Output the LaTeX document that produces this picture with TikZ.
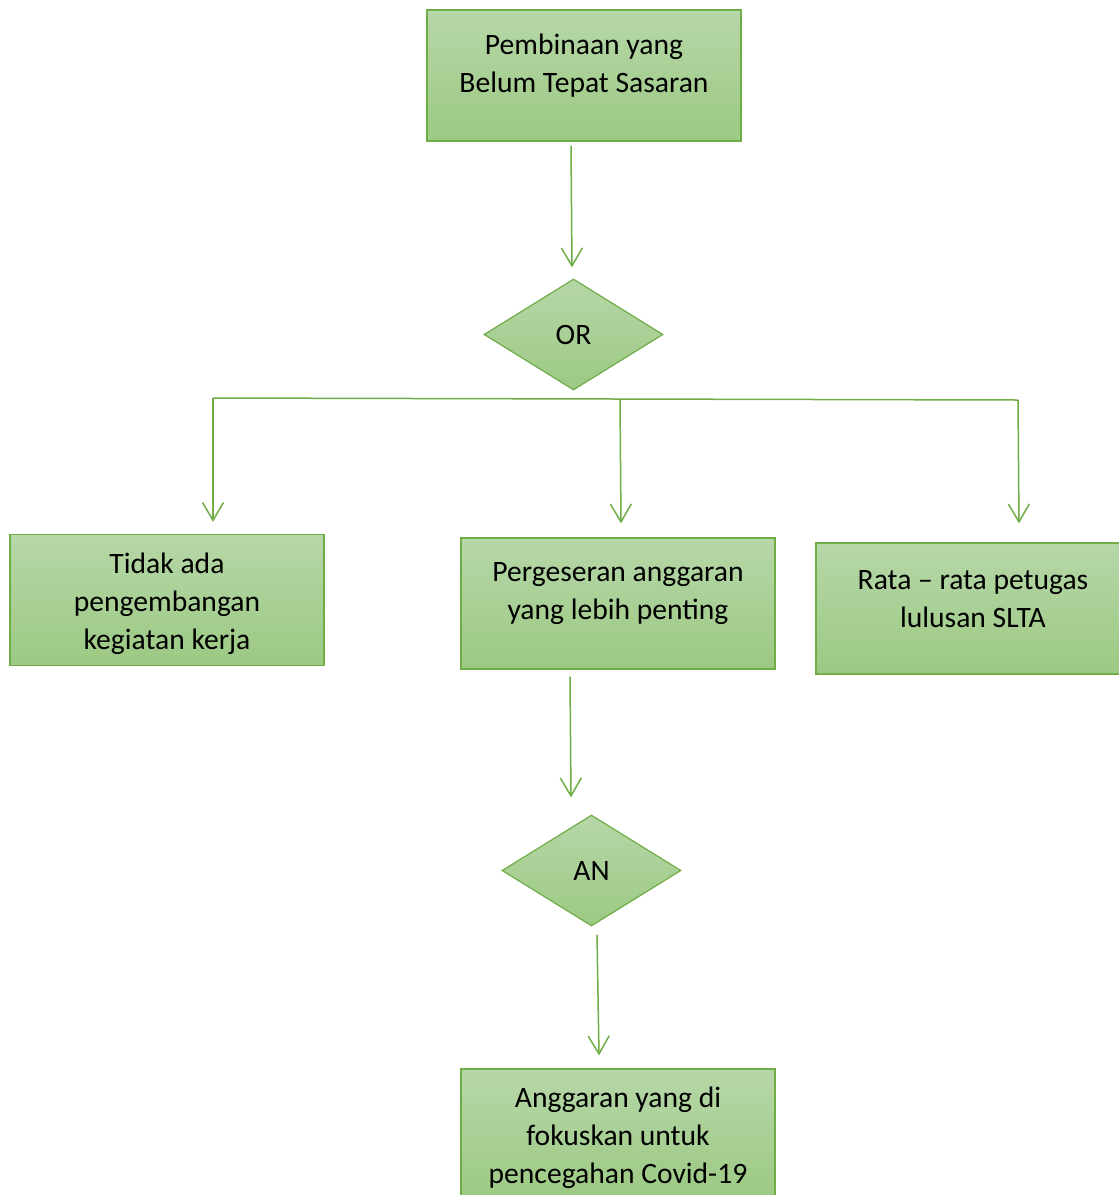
\documentclass[tikz,border=0pt]{standalone}
\usepackage{fontspec}
\setmainfont{Carlito}
\usetikzlibrary{shapes.geometric, arrows.meta, calc}
\definecolor{boxtop}{HTML}{B6D7A8}
\definecolor{boxbot}{HTML}{9CC983}
\definecolor{boxline}{HTML}{70AD47}

\begin{document}
\begin{tikzpicture}[x=0.5pt, y=-0.5pt,
  box/.style={rectangle, draw=boxline, line width=0.6pt,
              top color=boxtop, bottom color=boxbot,
              minimum width=157pt, minimum height=65.5pt, inner sep=0pt},
  dia/.style={diamond, draw=boxline, line width=0.6pt,
              top color=boxtop, bottom color=boxbot,
              minimum width=89.5pt, minimum height=55.5pt, inner sep=0pt,
              font=\fontsize{14.8}{19}\selectfont},
  txt/.style={align=center, inner sep=0pt,
              font=\fontsize{14.8}{19}\selectfont},
  arrow/.style={-{Straight Barb[length=9pt,width=10.5pt]},
                line width=0.75pt, boxline}
]
\useasboundingbox (0,0) rectangle (1119,1195);
\clip (0,0) rectangle (1119,1195);

% boxes
\node[box] (pb) at (584,75.5)  {};
\node[dia] (or) at (573.5,334.5) {OR};
\node[box] (td) at (167,600)   {};
\node[box] (pg) at (618,603.5) {};
\node[box] (rt) at (973,608.5) {};
\node[dia] (an) at (591.5,870.5) {AN};
\node[box] (ag) at (618,1134.5) {};

% texts
\node[txt] (pbt) at (584,66)  {Pembinaan yang\\Belum Tepat Sasaran};
\node[txt] (tdt) at (167,603.5) {Tidak ada\\pengembangan\\kegiatan kerja};
\node[txt] (pgt) at (618,594) {Pergeseran anggaran\\yang lebih penting};
\node[txt] (rtt) at (973,599) {Rata -- rata petugas\\lulusan SLTA};
\node[txt] (agt) at (618,1138) {Anggaran yang di\\fokuskan untuk\\pencegahan Covid-19};

% branch line
\coordinate (bl) at (213,398);
\coordinate (bm) at (620,399.5);
\coordinate (br) at (1018,400);
\draw[boxline, line width=0.75pt] (bl) -- (br);

% arrows
\draw[arrow] ($(pb.south)+(-13,4)$) -- ($(or.north)+(-1.5,-11)$);
\draw[arrow] (bl) -- ($(td.north)+(46,-12)$);
\draw[arrow] (bm) -- ($(pg.north)+(3,-14)$);
\draw[arrow] (br) -- ($(rt.north)+(46,-19)$);
\draw[arrow] ($(pg.south)+(-48,7)$) -- ($(an.north)+(-20.5,-17)$);
\draw[arrow] ($(an.south)+(5.5,8)$) -- ($(ag.north)+(-19,-13)$);
\end{tikzpicture}
\end{document}
